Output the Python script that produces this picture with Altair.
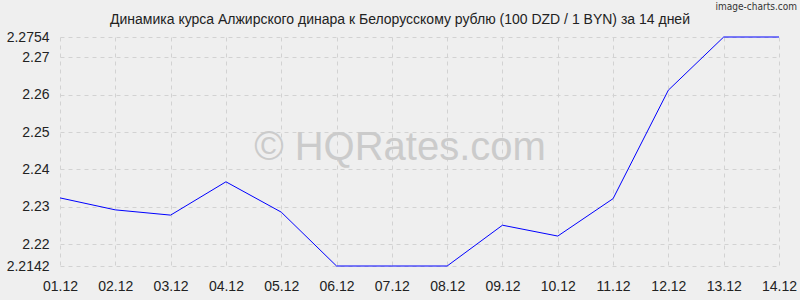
import altair as alt
import pandas as pd

dates = ["01.12", "02.12", "03.12", "04.12", "05.12", "06.12", "07.12",
         "08.12", "09.12", "10.12", "11.12", "12.12", "13.12", "14.12"]
rates = [2.2324, 2.2292, 2.2278, 2.2367, 2.2286, 2.2142, 2.2142,
         2.2142, 2.2251, 2.2222, 2.2322, 2.2612, 2.2754, 2.2754]
y_ticks = [2.2142, 2.22, 2.23, 2.24, 2.25, 2.26, 2.27, 2.2754]
title_text = "Динамика курса Алжирского динара к Белорусскому рублю (100 DZD / 1 BYN) за 14 дней"

df = pd.DataFrame({"date": dates, "rate": rates})

FONT = "Liberation Sans"
W, H = 719, 229

x_enc = alt.X("date:N", sort=dates,
              scale=alt.Scale(type="point", padding=0),
              axis=alt.Axis(title=None, labelAngle=0, ticks=False, domain=False,
                            labelFont=FONT, labelFontSize=14, labelColor="#222",
                            labelPadding=13, grid=True, gridColor="#d2d2d2",
                            gridDash=[4, 4], gridWidth=1))
y_enc = alt.Y("rate:Q",
              scale=alt.Scale(domain=[2.2142, 2.2754], nice=False, zero=False),
              axis=alt.Axis(title=None, values=y_ticks, ticks=False, domain=False,
                            labelExpr="datum.value + ''",
                            labelFont=FONT, labelFontSize=14, labelColor="#222",
                            labelPadding=11, grid=True, gridColor="#d2d2d2",
                            gridDash=[4, 4], gridWidth=1))

line = alt.Chart(df).mark_line(color="#0000ff", strokeWidth=1).encode(x=x_enc, y=y_enc)

wm = alt.Chart(pd.DataFrame({"t": ["© HQRates.com"]})).mark_text(
    font=FONT, fontSize=40, color="#cbcbcb", align="center", baseline="middle"
).encode(text="t:N", x=alt.value(340), y=alt.value(111))

brand = alt.Chart(pd.DataFrame({"t": ["image-charts.com"]})).mark_text(
    font="DejaVu Sans Condensed", fontSize=10, color="#333333", align="right",
    baseline="middle"
).encode(text="t:N", x=alt.value(737), y=alt.value(-30))

title = alt.Chart(pd.DataFrame({"t": [title_text]})).mark_text(
    font=FONT, fontSize=14, color="#222222", align="center", baseline="alphabetic"
).encode(text="t:N", x=alt.value(340), y=alt.value(-13))

chart = alt.layer(wm, line, brand, title).properties(
    width=W, height=H,
    autosize=alt.AutoSizeParams(type="none"),
    padding={"left": 60, "top": 37, "right": 21, "bottom": 34},
    background="#efefef",
).configure_view(stroke=None)

chart.save("out.html", embed_options={"renderer": "svg", "actions": False})
